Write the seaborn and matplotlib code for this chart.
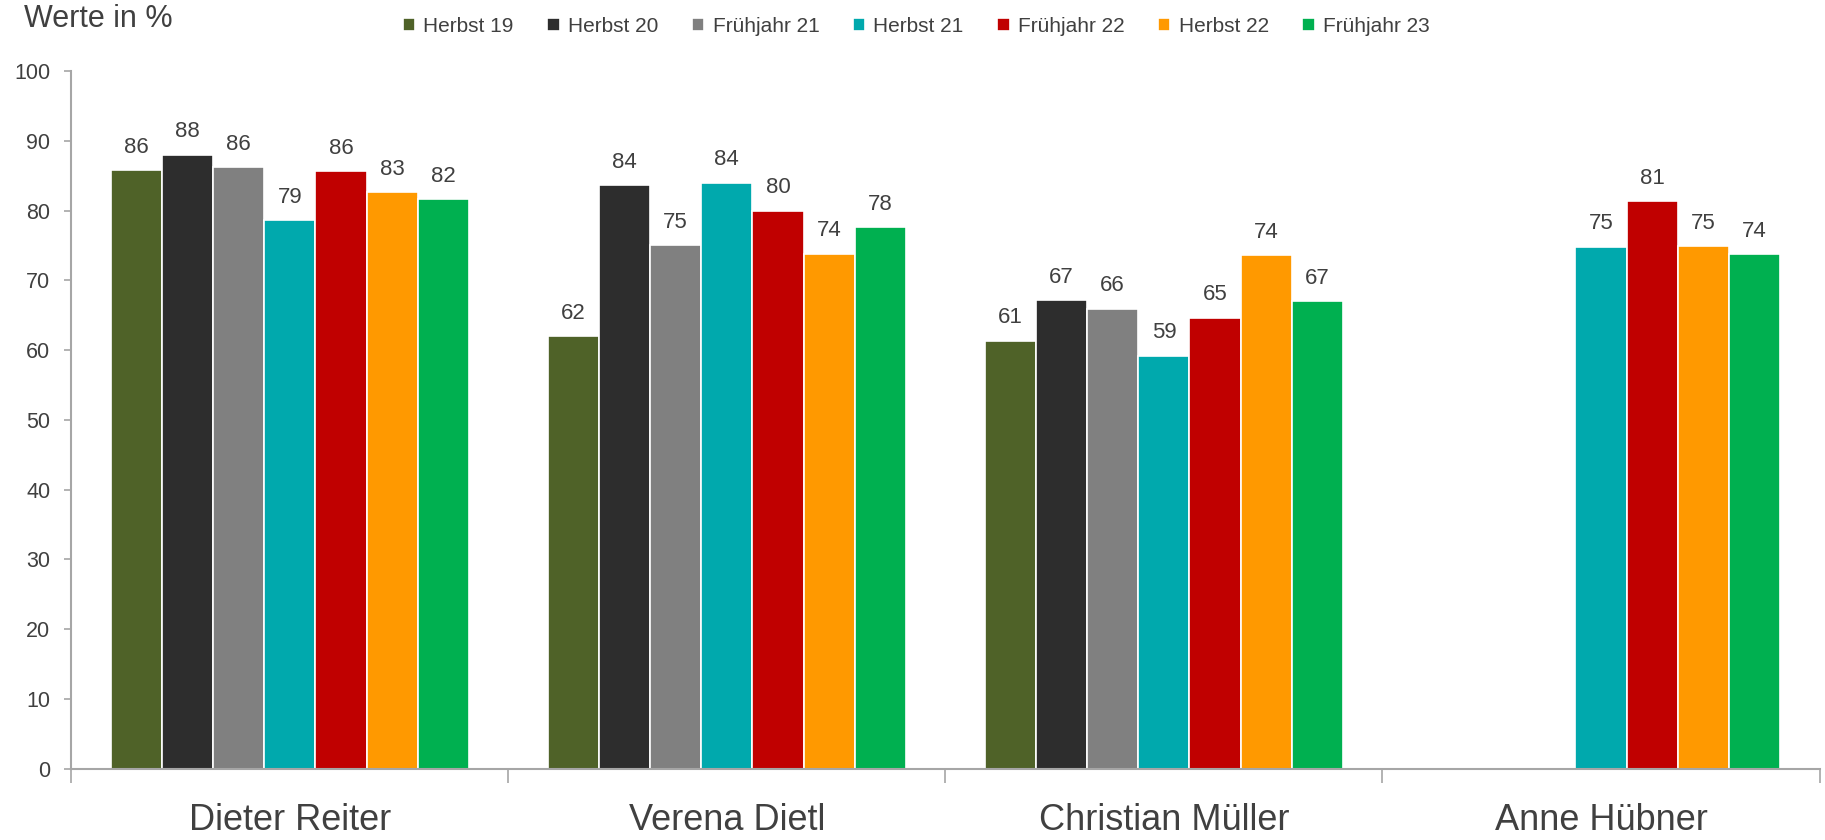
import matplotlib.pyplot as plt
import numpy as np
import pandas as pd
import seaborn as sns

# candidates on the x axis
candidates = ['Dieter Reiter', 'Verena Dietl', 'Christian Müller', 'Anne Hübner']

# survey waves (legend order)
waves = ['Herbst 19', 'Herbst 20', 'Frühjahr 21', 'Herbst 21',
         'Frühjahr 22', 'Herbst 22', 'Frühjahr 23']

# values in % per wave, one entry per candidate (nan = not asked)
herbst_19 = [85.8, 62.0, 61.3, np.nan]
herbst_20 = [88.0, 83.6, 67.1, np.nan]
fruehjahr_21 = [86.2, 75.0, 65.9, np.nan]
herbst_21 = [78.6, 84.0, 59.2, 74.8]
fruehjahr_22 = [85.6, 80.0, 64.6, 81.3]
herbst_22 = [82.6, 73.8, 73.6, 74.9]
fruehjahr_23 = [81.6, 77.6, 67.0, 73.7]

wave_colors = ['#4F6228', '#2D2D2D', '#808080', '#00A9AD',
               '#C00000', '#FF9900', '#00B050']

series = [herbst_19, herbst_20, fruehjahr_21, herbst_21,
          fruehjahr_22, herbst_22, fruehjahr_23]

rows = []
for wave, vals in zip(waves, series):
    for cand, v in zip(candidates, vals):
        rows.append({'candidate': cand, 'wave': wave, 'value': v})
df = pd.DataFrame(rows)

sns.set_theme(style='white')
plt.rcParams['font.family'] = ['Liberation Sans', 'DejaVu Sans']
text_color = '#404040'
axis_color = '#A6A6A6'

fig, ax = plt.subplots(figsize=(18.25, 8.4), dpi=100)
fig.subplots_adjust(left=0.039, right=0.997, bottom=0.085, top=0.9155)

sns.barplot(data=df, x='candidate', y='value', hue='wave',
            order=candidates, hue_order=waves, palette=wave_colors,
            saturation=1, width=0.82, edgecolor='white', linewidth=1.2,
            errorbar=None, ax=ax)

# value labels above the bars
for container in ax.containers:
    ax.bar_label(container, fmt='%.0f', padding=9, fontsize=16, color=text_color)

ax.set_ylim(0, 100)
ax.set_xlim(-0.5, 3.5)
ax.set_yticks(np.arange(0, 101, 10))
ax.set_xlabel('')
ax.set_ylabel('')

for side in ['top', 'right']:
    ax.spines[side].set_visible(False)
for side in ['left', 'bottom']:
    ax.spines[side].set_color(axis_color)
    ax.spines[side].set_linewidth(1.5)

ax.tick_params(axis='y', labelsize=15.5, colors=axis_color, labelcolor=text_color,
               direction='out', length=5, width=1.2, left=True, pad=10)
ax.tick_params(axis='x', which='major', length=0, labelsize=26,
               labelcolor=text_color, pad=25)
ax.set_xticks([-0.5, 0.5, 1.5, 2.5, 3.5], minor=True)
ax.tick_params(axis='x', which='minor', direction='out', length=10, width=1.2,
               colors=axis_color, bottom=True)

fig.text(0.013, 0.977, 'Werte in %', fontsize=22, color=text_color,
         ha='left', va='center')

handles, labels = ax.get_legend_handles_labels()
ax.legend_.remove()
fig.legend(handles, labels, loc='center', bbox_to_anchor=(0.502, 0.969),
           ncol=7, frameon=False, fontsize=15, labelcolor=text_color,
           handlelength=0.6, handleheight=0.6, handletextpad=0.4,
           columnspacing=1.6)

fig.savefig('out.png', dpi=100)
